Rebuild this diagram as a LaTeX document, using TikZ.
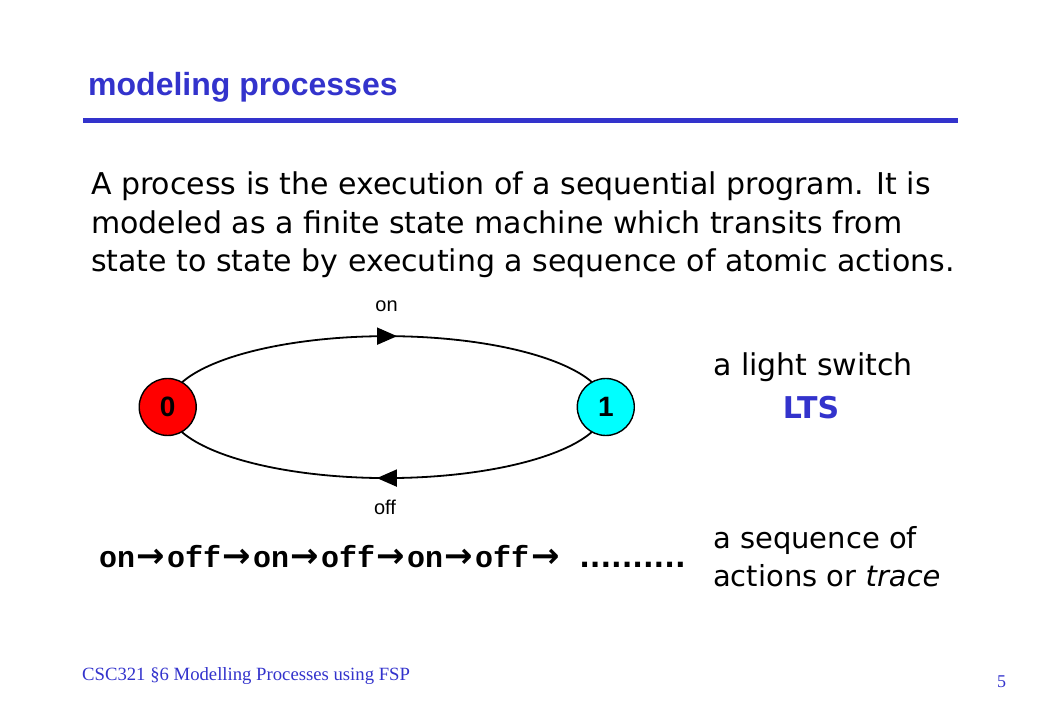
\documentclass[tikz,border=0pt]{standalone}
\usepackage{fontspec}
\setmainfont{DejaVu Sans}
\newfontfamily\tsans{Liberation Sans}
\newfontfamily\tmono{Liberation Mono}
\newfontfamily\tserif{Liberation Serif}
\newfontfamily\tarrowfam{DejaVu Sans}
\usetikzlibrary{arrows.meta,decorations.markings}
\definecolor{titleblue}{RGB}{51,51,204}
\definecolor{statered}{RGB}{255,0,0}
\definecolor{statecyan}{RGB}{0,255,255}
\newcommand\tarr{\makebox[32pt]{\raisebox{0pt}{\tarrowfam\bfseries\fontsize{34}{34}\selectfont →}}}
\tikzset{
  state/.style={circle,draw=black,line width=1.4pt,minimum size=57pt,inner sep=0pt,outer sep=0pt,
    font=\tsans\bfseries\fontsize{28}{28}\selectfont},
  edge/.style={line width=1.8pt,draw=black},
  midarrow/.style={postaction={decorate},decoration={markings,
    mark=at position 0.5 with {\arrow[xshift=10pt]{Triangle[length=20pt,width=17pt]}}}},
  body/.style={anchor=base west,inner sep=0pt,font=\fontsize{30}{30}\selectfont},
  lbl/.style={anchor=base,inner sep=0pt,font=\tsans\fontsize{20}{20}\selectfont},
}
\begin{document}
\begin{tikzpicture}[x=1pt,y=1pt]
\useasboundingbox (0,0) rectangle (1040,720);
% title
\node[anchor=base west,inner sep=0pt,text=titleblue,font=\tsans\bfseries\fontsize{32}{32}\selectfont] (title) at (88,624) {modeling processes};
\coordinate (rl) at (83,599.5);
\coordinate (rr) at (958,599.5);
\draw[titleblue,line width=4.3pt] (rl) -- (rr);
% body text
\node[body] (l1) at (91,525) {A process is the execution of a sequential program. It is};
\node[body] (l2) at (91,486.5) {modeled as a finite state machine which transits from};
\node[body] (l3) at (91,448) {state to state by executing a sequence of atomic actions.};
% LTS
\node[state,fill=statered] (n0) at (167.7,313) {0};
\node[state,fill=statecyan] (n1) at (605.8,313) {1};
\draw[edge,midarrow] (n0.60.9) arc[start angle=159.5,end angle=20.5,x radius=219pt,y radius=71pt];
\draw[edge,midarrow] (n1.-119.1) arc[start angle=-20.5,end angle=-159.5,x radius=219pt,y radius=71pt];
\node[lbl] (lon) at (386.5,408.3) {on};
\node[lbl] (loff) at (385,205) {off};
% right captions
\node[body] (c1) at (713,344) {a light switch};
\node[anchor=base,inner sep=0pt,text=titleblue,font=\bfseries\fontsize{30}{30}\selectfont] (c2) at (811,301.7) {LTS};
\node[body,font=\fontsize{29}{29}\selectfont] (c3) at (713,171.7) {a sequence of};
\node[body,font=\fontsize{29}{29}\selectfont] (c4) at (713,134) {actions or \textit{trace}};
% trace
\node[anchor=base west,inner sep=0pt,font=\tmono\bfseries\fontsize{30}{30}\selectfont] (tr) at (99,153)
  {on\tarr off\tarr on\tarr off\tarr on\tarr off\tarr\ {\tarrowfam\bfseries\fontsize{28}{28}\selectfont ..........}};
% footer
\node[anchor=base west,inner sep=0pt,text=titleblue,font=\tserif\fontsize{18.7}{18.7}\selectfont] (foot) at (82,40) {CSC321 §6 Modelling Processes using FSP};
\node[anchor=base,inner sep=0pt,text=titleblue,font=\tserif\fontsize{18}{18}\selectfont] (pg) at (1001.5,33) {5};
\end{tikzpicture}
\end{document}
